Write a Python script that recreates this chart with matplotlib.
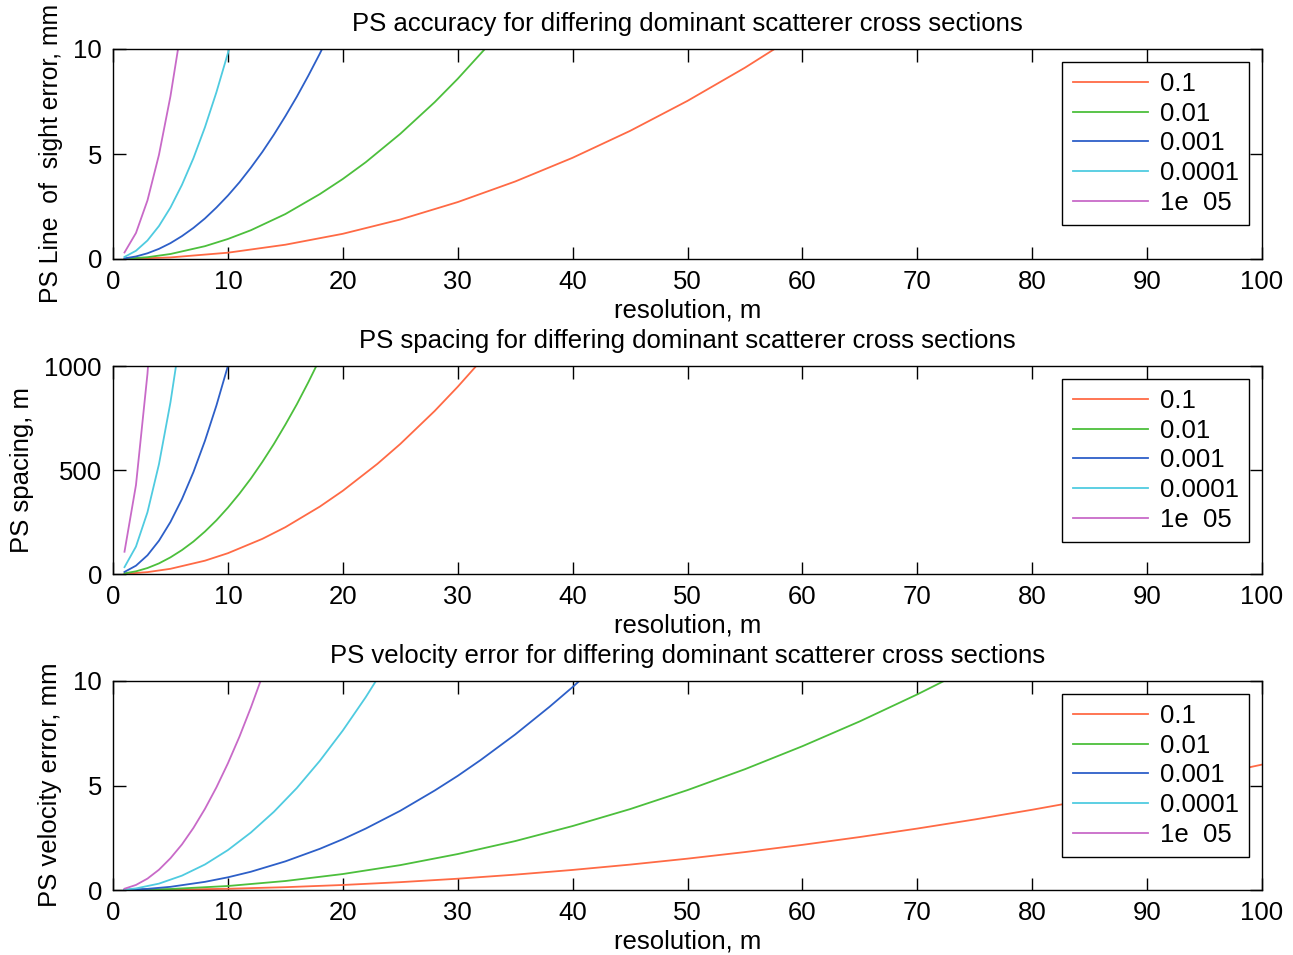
import matplotlib
matplotlib.use("Agg")
import matplotlib.pyplot as plt

plt.rcParams['font.family'] = ['Liberation Sans', 'DejaVu Sans']

labels = ["0.1", "0.01", "0.001", "0.0001", "1e  05"]
colors = ["#ff6a45", "#4cbf3c", "#2d5fc8", "#4fcbe0", "#c86ac8"]

# Panel 1: PS line of sight error, mm
p1_red_x = [1, 5, 10, 15, 20, 25, 30, 35, 40, 45, 50, 55, 60]
p1_red_y = [0.003, 0.075, 0.30, 0.68, 1.20, 1.88, 2.71, 3.69, 4.82, 6.10, 7.53, 9.11, 10.84]
p1_green_x = [1, 3, 5, 8, 10, 12, 15, 18, 20, 22, 25, 28, 30, 33, 35]
p1_green_y = [0.0095, 0.086, 0.238, 0.61, 0.953, 1.37, 2.14, 3.09, 3.81, 4.61, 5.96, 7.47, 8.58, 10.38, 11.67]
p1_blue_x = [1, 2, 3, 4, 5, 6, 7, 8, 9, 10, 11, 12, 13, 14, 15, 16, 17, 18, 19]
p1_blue_y = [0.03, 0.121, 0.272, 0.483, 0.755, 1.09, 1.48, 1.93, 2.45, 3.02, 3.65, 4.35, 5.10, 5.92, 6.80, 7.73, 8.73, 9.78, 10.9]
p1_cyan_x = [1, 2, 3, 4, 5, 6, 7, 8, 9, 10, 11]
p1_cyan_y = [0.098, 0.392, 0.882, 1.57, 2.45, 3.53, 4.80, 6.27, 7.94, 9.80, 11.86]
p1_mag_x = [1, 2, 3, 4, 5, 6]
p1_mag_y = [0.31, 1.24, 2.79, 4.96, 7.75, 11.16]

# Panel 2: PS spacing, m
p2_red_x = [1, 3, 5, 8, 10, 13, 15, 18, 20, 23, 25, 28, 30, 32]
p2_red_y = [1, 9, 25, 64, 100, 169, 225, 324, 400, 529, 625, 784, 900, 1024]
p2_green_x = [1, 2, 3, 4, 5, 6, 7, 8, 9, 10, 11, 12, 13, 14, 15, 16, 17, 18]
p2_green_y = [3.2, 12.8, 28.7, 51, 80, 115, 156, 204, 258, 319, 386, 459, 539, 625, 718, 816, 922, 1034]
p2_blue_x = [1, 2, 3, 4, 5, 6, 7, 8, 9, 10, 11]
p2_blue_y = [10, 40, 90, 160, 250, 360, 490, 640, 810, 1000, 1210]
p2_cyan_x = [1, 2, 3, 4, 5, 6]
p2_cyan_y = [33, 132, 297, 528, 825, 1188]
p2_mag_x = [1, 2, 3, 4]
p2_mag_y = [107, 428, 963, 1712]

# Panel 3: PS velocity error, mm
p3_red_x = [1, 5, 10, 15, 20, 25, 30, 35, 40, 45, 50, 55, 60, 65, 70, 75, 80, 85, 90, 95, 100]
p3_red_y = [0.0006, 0.015, 0.06, 0.135, 0.24, 0.375, 0.54, 0.735, 0.96, 1.215, 1.5, 1.815, 2.16, 2.535, 2.94, 3.375, 3.84, 4.335, 4.86, 5.415, 6.0]
p3_green_x = [1, 5, 10, 15, 20, 25, 30, 35, 40, 45, 50, 55, 60, 65, 70, 75]
p3_green_y = [0.0019, 0.048, 0.191, 0.43, 0.764, 1.19, 1.72, 2.34, 3.06, 3.87, 4.78, 5.78, 6.88, 8.07, 9.36, 10.74]
p3_blue_x = [1, 3, 5, 8, 10, 12, 15, 18, 20, 22, 25, 28, 30, 32, 35, 38, 40, 42]
p3_blue_y = [0.006, 0.055, 0.152, 0.39, 0.607, 0.874, 1.37, 1.97, 2.43, 2.94, 3.79, 4.76, 5.46, 6.22, 7.44, 8.77, 9.71, 10.71]
p3_cyan_x = [1, 2, 4, 6, 8, 10, 12, 14, 16, 18, 20, 22, 24]
p3_cyan_y = [0.019, 0.076, 0.305, 0.687, 1.22, 1.91, 2.75, 3.74, 4.88, 6.18, 7.63, 9.23, 10.98]
p3_mag_x = [1, 2, 3, 4, 5, 6, 7, 8, 9, 10, 11, 12, 13]
p3_mag_y = [0.061, 0.242, 0.545, 0.97, 1.52, 2.18, 2.97, 3.88, 4.91, 6.06, 7.33, 8.73, 10.24]

panels = [
    dict(title="PS accuracy for differing dominant scatterer cross sections",
         ylabel="PS Line  of  sight error, mm", ylim=(0, 10), yticks=[0, 5, 10],
         series=[(p1_red_x, p1_red_y), (p1_green_x, p1_green_y), (p1_blue_x, p1_blue_y),
                 (p1_cyan_x, p1_cyan_y), (p1_mag_x, p1_mag_y)],
         rect=[113, 49, 1262, 259], ylabx=51, ylaby=153, ylabfs=17.8),
    dict(title="PS spacing for differing dominant scatterer cross sections",
         ylabel="PS spacing, m", ylim=(0, 1000), yticks=[0, 500, 1000],
         series=[(p2_red_x, p2_red_y), (p2_green_x, p2_green_y), (p2_blue_x, p2_blue_y),
                 (p2_cyan_x, p2_cyan_y), (p2_mag_x, p2_mag_y)],
         rect=[113, 366, 1262, 574], ylabx=22, ylaby=470, ylabfs=18.5),
    dict(title="PS velocity error for differing dominant scatterer cross sections",
         ylabel="PS velocity error, mm", ylim=(0, 10), yticks=[0, 5, 10],
         series=[(p3_red_x, p3_red_y), (p3_green_x, p3_green_y), (p3_blue_x, p3_blue_y),
                 (p3_cyan_x, p3_cyan_y), (p3_mag_x, p3_mag_y)],
         rect=[113, 681, 1262, 890], ylabx=50, ylaby=785, ylabfs=18.5),
]

W, H = 1293, 955
fig = plt.figure(figsize=(W / 100, H / 100), dpi=100)
fs = 18.5

for p in panels:
    l, t, r, b = p["rect"]
    ax = fig.add_axes([l / W, 1 - b / H, (r - l) / W, (b - t) / H])
    for (xs, ys), c, lab in zip(p["series"], colors, labels):
        ax.plot(xs, ys, color=c, lw=1.3, label=lab)
    ax.set_xlim(0, 100)
    ax.set_ylim(*p["ylim"])
    ax.set_xticks(range(0, 101, 10))
    ax.set_yticks(p["yticks"])
    ax.tick_params(direction="in", length=9, width=1.0, top=True, right=True,
                   labelsize=fs, pad=8)
    for s in ax.spines.values():
        s.set_linewidth(1.0)
    ax.set_title(p["title"], fontsize=fs, pad=13)
    ax.set_xlabel("resolution, m", fontsize=fs, labelpad=3)
    ax.set_ylabel(p["ylabel"], fontsize=p["ylabfs"], va="center")
    ax.yaxis.set_label_coords((p["ylabx"] - l) / (r - l), (b - p["ylaby"]) / (b - t))
    leg = ax.legend(loc="upper right", fontsize=fs, frameon=True, fancybox=False,
                    framealpha=1, edgecolor="black", handlelength=2.95,
                    borderaxespad=0.5, labelspacing=0.22, handletextpad=0.45,
                    borderpad=0.4)
    leg.get_frame().set_linewidth(1.0)

fig.savefig("out.png", dpi=100)
